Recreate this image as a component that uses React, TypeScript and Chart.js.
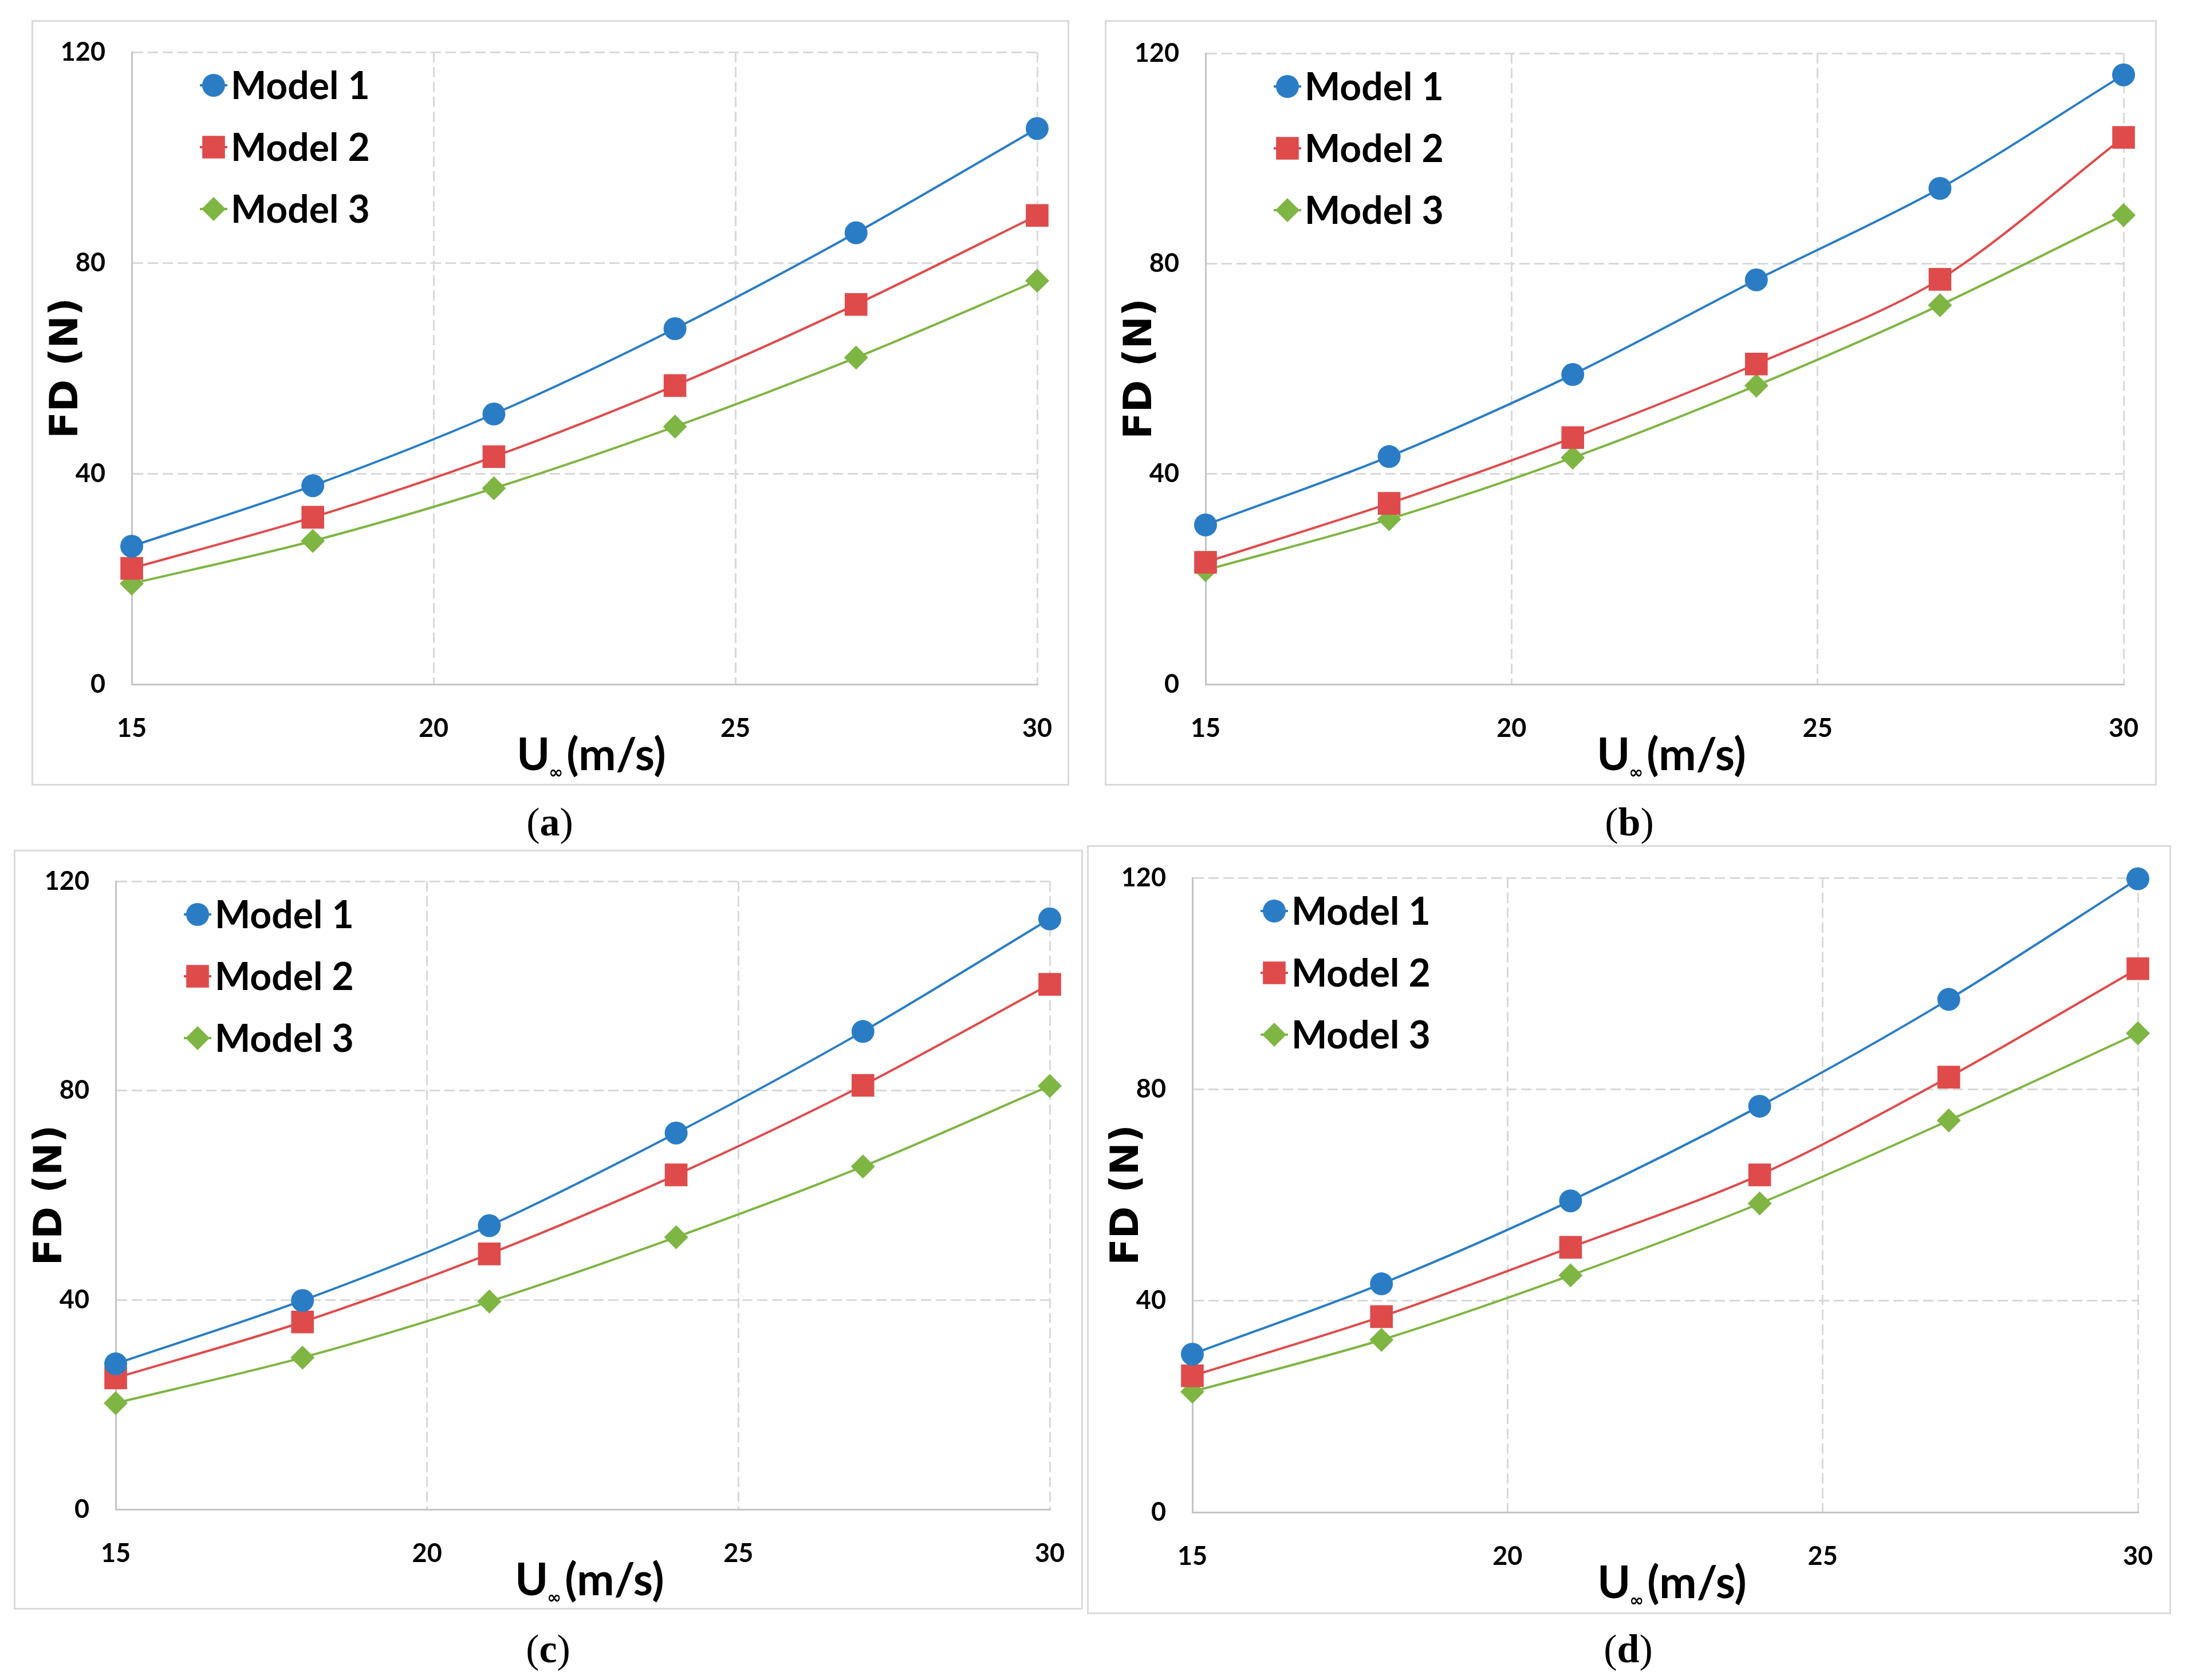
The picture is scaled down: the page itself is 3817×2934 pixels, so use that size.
import React, { useEffect, useRef } from 'react';
import { Chart, registerables } from 'chart.js';
import { drawPoint } from 'chart.js/helpers';

Chart.register(...registerables);

// ---- data ----
const speeds = [15, 18, 21, 24, 27, 30];
const seriesNames = ['Model 1', 'Model 2', 'Model 3'];
const xTickValues = [15, 20, 25, 30];
const yTickValues = [0, 40, 80, 120];

const aModel1 = [26.2, 37.7, 51.3, 67.5, 85.7, 105.5];
const aModel2 = [22.0, 31.7, 43.2, 56.7, 72.1, 89.0];
const aModel3 = [19.1, 27.2, 37.2, 48.9, 62.0, 76.6];

const bModel1 = [30.3, 43.3, 58.9, 76.9, 94.3, 115.9];
const bModel2 = [23.2, 34.4, 46.9, 60.9, 77.0, 104.0];
const bModel3 = [21.7, 31.4, 43.1, 56.8, 72.1, 89.2];

const cModel1 = [27.8, 39.9, 54.2, 71.9, 91.3, 112.8];
const cModel2 = [25.1, 35.8, 48.8, 63.9, 81.0, 100.3];
const cModel3 = [20.3, 29.0, 39.7, 52.0, 65.5, 80.9];

const dModel1 = [29.9, 43.2, 58.9, 76.8, 97.0, 119.8];
const dModel2 = [25.8, 37.0, 50.1, 63.8, 82.3, 102.8];
const dModel3 = [22.8, 32.6, 44.8, 58.4, 74.1, 90.6];

const yTitle = 'FD (N)';
const xTitleMain = 'U';
const xTitleSub = '\u221E';
const xTitleUnit = '(m/s)';

// ---- styles ----
const colors = ['#2a7dc5', '#df4b4b', '#7fb543'];
const pointStyles = ['circle', 'rect', 'rectRot'];
const pointSizes = [20, 28, 21];

type Box = { l: number; t: number; r: number; b: number };
type PanelDef = { letter: string; series: number[][]; frame: Box; plot: Box; cap: { x: number; y: number } };

const panels: PanelDef[] = [
  { letter: 'a', series: [aModel1, aModel2, aModel3], frame: { l: 55, t: 35, r: 1867, b: 1372 }, plot: { l: 230, t: 91, r: 1811, b: 1195 }, cap: { x: 960, y: 1436 } },
  { letter: 'b', series: [bModel1, bModel2, bModel3], frame: { l: 1929, t: 35, r: 3766, b: 1372 }, plot: { l: 2105, t: 93, r: 3708, b: 1195 }, cap: { x: 2845, y: 1436 } },
  { letter: 'c', series: [cModel1, cModel2, cModel3], frame: { l: 24, t: 1484, r: 1891, b: 2811 }, plot: { l: 202, t: 1539, r: 1833, b: 2636 }, cap: { x: 957, y: 2880 } },
  { letter: 'd', series: [dModel1, dModel2, dModel3], frame: { l: 1898, t: 1476, r: 3791, b: 2819 }, plot: { l: 2082, t: 1533, r: 3733, b: 2641 }, cap: { x: 2843, y: 2880 } },
];

const tickFont = { family: 'Lato, sans-serif', weight: 'bold' as const, size: 45 };

// legend inside plot + axis titles
const overlayPlugin = {
  id: 'overlay',
  afterDraw(chart: any) {
    const { ctx, chartArea } = chart;
    ctx.save();
    chart.data.datasets.forEach((ds: any, i: number) => {
      const cx = chartArea.left + 143;
      const cy = chartArea.top + 58 + i * 108;
      ctx.strokeStyle = colors[i];
      ctx.lineWidth = 4;
      ctx.beginPath();
      ctx.moveTo(cx - 24, cy);
      ctx.lineTo(cx + 24, cy);
      ctx.stroke();
      ctx.fillStyle = colors[i];
      drawPoint(ctx, { pointStyle: pointStyles[i], radius: pointSizes[i], rotation: 0, borderWidth: 0 } as any, cx, cy);
      ctx.fillStyle = '#000';
      ctx.font = 'bold 66px Lato, sans-serif';
      ctx.textAlign = 'left';
      ctx.textBaseline = 'alphabetic';
      ctx.fillText(ds.label, cx + 30, cy + 24);
    });

    // y title
    ctx.save();
    ctx.translate(chartArea.left - 113, (chartArea.top + chartArea.bottom) / 2);
    ctx.rotate(-Math.PI / 2);
    ctx.font = 'bold 68px "DejaVu Sans", sans-serif';
    ctx.textAlign = 'center';
    ctx.textBaseline = 'middle';
    ctx.fillStyle = '#000';
    ctx.fillText(yTitle, 0, 0);
    ctx.restore();

    // x title with subscript
    const mainFont = 'bold 78px Lato, sans-serif';
    const subFont = 'bold 30px "DejaVu Sans", sans-serif';
    ctx.font = mainFont;
    const w1 = ctx.measureText(xTitleMain).width;
    const w3 = ctx.measureText(xTitleUnit).width;
    ctx.font = subFont;
    const w2 = ctx.measureText(xTitleSub).width;
    const total = w1 + w2 + 4 + w3;
    let x = (chartArea.left + chartArea.right) / 2 + 12 - total / 2;
    const base = chartArea.bottom + 150;
    ctx.textAlign = 'left';
    ctx.textBaseline = 'alphabetic';
    ctx.font = mainFont;
    ctx.fillText(xTitleMain, x, base);
    x += w1 - 2;
    ctx.font = subFont;
    ctx.fillText(xTitleSub, x, base + 14);
    x += w2 + 6;
    ctx.font = mainFont;
    ctx.fillText(xTitleUnit, x, base);
    ctx.restore();
  },
};

const Panel: React.FC<{ def: PanelDef }> = ({ def }) => {
  const canvasRef = useRef<HTMLCanvasElement | null>(null);
  const { frame, plot } = def;
  const width = frame.r - frame.l;
  const height = frame.b - frame.t;

  useEffect(() => {
    if (!canvasRef.current) return;
    const chart = new Chart(canvasRef.current, {
      type: 'line',
      data: {
        datasets: def.series.map((vals, i) => ({
          label: seriesNames[i],
          data: speeds.map((s, k) => ({ x: s, y: vals[k] })),
          borderColor: colors[i],
          backgroundColor: colors[i],
          borderWidth: 4,
          pointStyle: pointStyles[i] as any,
          pointRadius: pointSizes[i],
          pointBorderWidth: 0,
          pointBackgroundColor: colors[i],
          tension: 0.3,
          clip: false as any,
        })),
      },
      options: {
        animation: false,
        responsive: false,
        devicePixelRatio: 1,
        layout: { padding: { left: 0, top: plot.t - frame.t, right: frame.r - plot.r, bottom: 0 } },
        plugins: { legend: { display: false }, tooltip: { enabled: false } },
        scales: {
          x: {
            type: 'linear',
            min: xTickValues[0],
            max: xTickValues[xTickValues.length - 1],
            afterBuildTicks: (s: any) => { s.ticks = xTickValues.map((v) => ({ value: v })); },
            afterFit: (s: any) => {
              s.height = frame.b - plot.b;
              s.paddingLeft = 0;
              s.paddingRight = 0;
            },
            grid: { color: '#d9d9d9', lineWidth: 3, drawTicks: false },
            border: { display: true, color: '#c4c4c4', width: 3, dash: [18, 8] },
            ticks: { font: tickFont, color: '#000', padding: 50, maxRotation: 0 },
          },
          y: {
            type: 'linear',
            min: yTickValues[0],
            max: yTickValues[yTickValues.length - 1],
            afterBuildTicks: (s: any) => { s.ticks = yTickValues.map((v) => ({ value: v })); },
            afterFit: (s: any) => {
              s.width = plot.l - frame.l;
              s.paddingTop = 0;
              s.paddingBottom = 0;
            },
            grid: { color: '#d9d9d9', lineWidth: 3, drawTicks: false },
            border: { display: true, color: '#c4c4c4', width: 3, dash: [18, 8] },
            ticks: { font: tickFont, color: '#000', padding: 46 },
          },
        },
      },
      plugins: [overlayPlugin],
    });
    return () => chart.destroy();
  }, []);

  return (
    <>
      <div
        style={{
          position: 'absolute',
          left: frame.l,
          top: frame.t,
          width,
          height,
          border: '3px solid #dadada',
          boxSizing: 'border-box',
        }}
      />
      <canvas
        ref={canvasRef}
        width={width}
        height={height}
        style={{ position: 'absolute', left: frame.l, top: frame.t, width, height }}
      />
      <div
        style={{
          position: 'absolute',
          left: def.cap.x,
          top: def.cap.y,
          transform: 'translate(-50%, -50%)',
          fontFamily: '"Liberation Serif", serif',
          fontSize: 70,
          lineHeight: 1,
          color: '#000',
          whiteSpace: 'nowrap',
        }}
      >
        (<b>{def.letter}</b>)
      </div>
    </>
  );
};

export default function App() {
  return (
    <div style={{ position: 'absolute', left: 0, top: 0, width: 3817, height: 2934, background: '#fff', overflow: 'hidden' }}>
      {panels.map((p) => (
        <Panel key={p.letter} def={p} />
      ))}
    </div>
  );
}
